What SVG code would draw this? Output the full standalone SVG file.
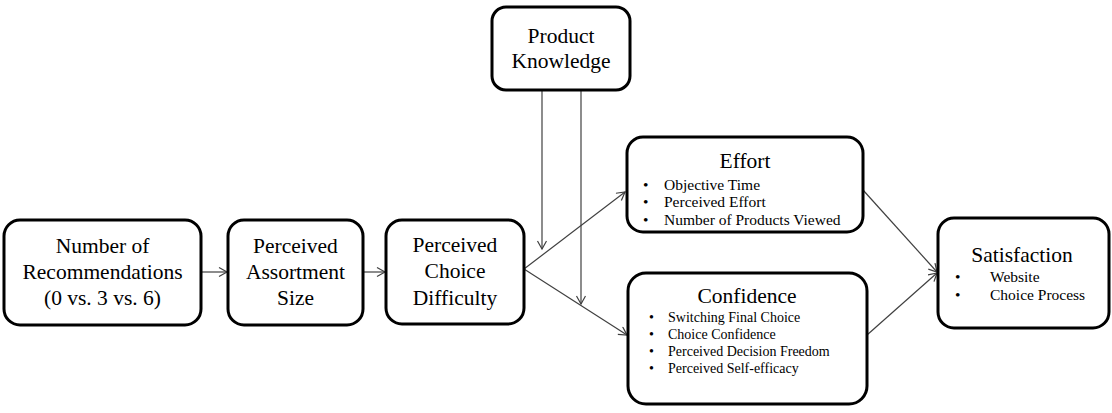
<svg xmlns="http://www.w3.org/2000/svg" width="1112" height="413" viewBox="0 0 1112 413">
<style>
.box{fill:#fff;stroke:#000;stroke-width:3}
.t{font-family:"Liberation Serif","Times New Roman",serif;font-size:21.5px;fill:#000;text-anchor:middle}
.b{font-family:"Liberation Serif","Times New Roman",serif;font-size:15.5px;fill:#000}
.b14{font-family:"Liberation Serif","Times New Roman",serif;font-size:14px;fill:#000}
.c{stroke:#404040;stroke-width:1.2;fill:none;marker-end:url(#ah)}
</style>
<defs>
<marker id="ah" markerWidth="12" markerHeight="12" refX="9" refY="5" orient="auto" markerUnits="userSpaceOnUse">
<path d="M1,0.5 L9,5 L1,9.5" fill="none" stroke="#404040" stroke-width="1.2"/>
</marker>
</defs>
<rect width="1112" height="413" fill="#fff"/>
<g id="connectors">
<line class="c" x1="201" y1="272" x2="227" y2="272"/>
<line class="c" x1="363" y1="272" x2="385" y2="272"/>
<line class="c" x1="524" y1="269" x2="625" y2="192"/>
<line class="c" x1="524" y1="269" x2="627" y2="335"/>
<line class="c" x1="542" y1="90" x2="542" y2="249"/>
<line class="c" x1="581" y1="90" x2="581" y2="304"/>
<line class="c" x1="863" y1="190" x2="937" y2="272"/>
<line class="c" x1="867" y1="335" x2="937" y2="273"/>
</g>
<g id="n-recommendations">
<rect class="box" x="4" y="220" width="197" height="105" rx="16"/>
<text class="t" x="102.5" y="253">Number of</text>
<text class="t" x="102.5" y="279">Recommendations</text>
<text class="t" x="102.5" y="305">(0 vs. 3 vs. 6)</text>
</g>
<g id="n-assortment">
<rect class="box" x="228" y="220" width="135" height="105" rx="16"/>
<text class="t" x="295.5" y="253">Perceived</text>
<text class="t" x="295.5" y="279">Assortment</text>
<text class="t" x="295.5" y="305">Size</text>
</g>
<g id="n-difficulty">
<rect class="box" x="386" y="220" width="138" height="104" rx="16"/>
<text class="t" x="455" y="252">Perceived</text>
<text class="t" x="455" y="278">Choice</text>
<text class="t" x="455" y="305">Difficulty</text>
</g>
<g id="n-knowledge">
<rect class="box" x="492" y="7" width="138" height="83" rx="14"/>
<text class="t" x="561" y="43">Product</text>
<text class="t" x="561" y="68">Knowledge</text>
</g>
<g id="n-effort">
<rect class="box" x="627" y="137" width="236" height="95" rx="16"/>
<text class="t" x="745" y="168">Effort</text>
<text class="b" x="643" y="190">•</text><text class="b" x="664" y="190">Objective Time</text>
<text class="b" x="643" y="207">•</text><text class="b" x="664" y="207">Perceived Effort</text>
<text class="b" x="643" y="225">•</text><text class="b" x="664" y="225">Number of Products Viewed</text>
</g>
<g id="n-confidence">
<rect class="box" x="628" y="273" width="239" height="131" rx="18"/>
<text class="t" x="747" y="303">Confidence</text>
<text class="b14" x="649" y="322">•</text><text class="b14" x="668" y="322">Switching Final Choice</text>
<text class="b14" x="649" y="339">•</text><text class="b14" x="668" y="339">Choice Confidence</text>
<text class="b14" x="649" y="356">•</text><text class="b14" x="668" y="356">Perceived Decision Freedom</text>
<text class="b14" x="649" y="373">•</text><text class="b14" x="668" y="373">Perceived Self-efficacy</text>
</g>
<g id="n-satisfaction">
<rect class="box" x="938" y="218" width="171" height="110" rx="16"/>
<text class="t" x="1022" y="262">Satisfaction</text>
<text class="b" x="955" y="282">•</text><text class="b" x="990" y="282">Website</text>
<text class="b" x="955" y="300">•</text><text class="b" x="990" y="300">Choice Process</text>
</g>
</svg>
